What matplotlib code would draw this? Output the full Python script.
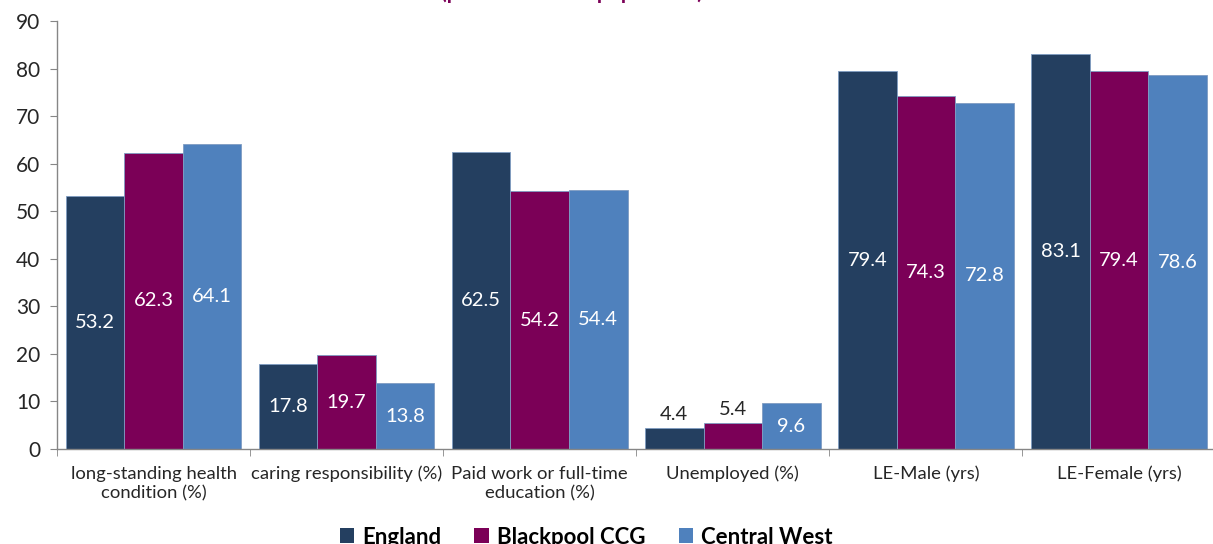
import numpy as np
import matplotlib
matplotlib.use("Agg")
import matplotlib.pyplot as plt
from matplotlib.patches import Patch

plt.rcParams['font.family'] = ['Lato', 'DejaVu Sans']

# indicator data per area
categories = ["long-standing health\ncondition (%)", "caring responsibility (%)",
              "Paid work or full-time\neducation (%)", "Unemployed (%)",
              "LE-Male (yrs)", "LE-Female (yrs)"]
england = [53.2, 17.8, 62.5, 4.4, 79.4, 83.1]
blackpool = [62.3, 19.7, 54.2, 5.4, 74.3, 79.4]
central_west = [64.1, 13.8, 54.4, 9.6, 72.8, 78.6]
series_names = ["England", "Blackpool CCG", "Central West"]
colors = ["#243F60", "#7B0057", "#4F81BD"]

W, H = 1213, 544
fig = plt.figure(figsize=(W / 100, H / 100), dpi=100)
ax = fig.add_axes([57 / W, 95 / H, 1158.6 / W, 428 / H])

x = np.arange(len(categories))
width = 0.303
for i, (vals, col) in enumerate(zip([england, blackpool, central_west], colors)):
    pos = x + (i - 1) * width
    ax.bar(pos, vals, width, color=col, edgecolor="#7f9cc2", linewidth=0.6)
    for xp, v in zip(pos, vals):
        # short bars get their label above, the rest in the middle
        if v < 7:
            ax.annotate(f"{v:.1f}", (xp, v), xytext=(0, 10), textcoords="offset points",
                        ha="center", va="center", fontsize=14.5, color="#262626")
        else:
            ax.text(xp, v / 2, f"{v:.1f}", ha="center", va="center",
                    fontsize=14.5, color="white")

ax.set_xlim(-0.5, len(categories) - 0.5)
ax.set_ylim(0, 90)
ax.set_yticks(range(0, 91, 10))
ax.tick_params(axis="y", labelsize=15, colors="#262626", length=5, color="#868686", pad=7)

ax.set_xticks(x)
ax.set_xticklabels(categories, fontsize=13.3, color="#262626", linespacing=1.3)
ax.set_xticks(np.arange(-0.5, len(categories), 1), minor=True)
ax.tick_params(axis="x", which="major", length=0, pad=12)
ax.tick_params(axis="x", which="minor", length=5, color="#868686")

for s in ["top", "right"]:
    ax.spines[s].set_visible(False)
for s in ["left", "bottom"]:
    ax.spines[s].set_color("#868686")
    ax.spines[s].set_linewidth(1)

fig.text(572 / W, 1 + 1 / H, "(percent of total population)", ha="center",
         va="baseline", fontsize=15, fontweight="bold", color="#7B0057")

handles = [Patch(facecolor=c, edgecolor="none") for c in colors]
fig.legend(handles, series_names, loc="center", bbox_to_anchor=(586 / W, 7 / H),
           ncol=3, frameon=False, prop={"size": 16, "weight": "bold"},
           handlelength=0.65, handleheight=0.65, handletextpad=0.35, columnspacing=1.5,
           borderpad=0)

fig.savefig("out.png", dpi=100)
